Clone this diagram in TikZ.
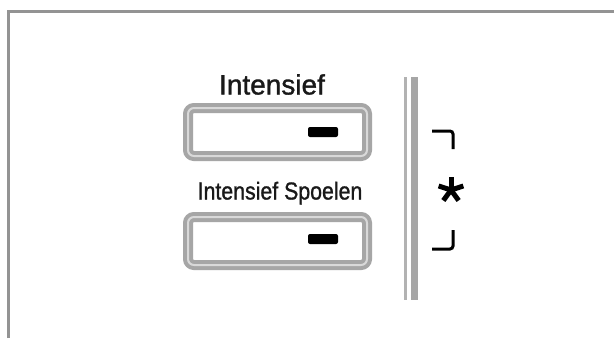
\documentclass[tikz,border=0pt]{standalone}
\usepackage{fontspec}
\setmainfont{Liberation Sans}
\newfontfamily\panelfont[FakeBold=1.2]{Liberation Sans}

\tikzset{
    rim/.style={rounded corners=6pt, draw=gray!70, line width=10pt},
    rimline/.style={rounded corners=6pt, draw=gray!30, line width=2pt},
    lamp/.style={fill=black, rounded corners=2pt},
    hook/.style={line width=3pt, rounded corners=3pt}
}

\begin{document}
\begin{tikzpicture}[x=1pt,y=-1pt]

    \useasboundingbox (0,0) rectangle (614,338);
    \fill[white] (0,0) rectangle (614,338);

    % panel frame
    \draw[gray!85, line width=3pt] (8.5,338) -- (8.5,11.5) -- (614,11.5);

    % buttons
    \node[font=\panelfont\fontsize{28}{30}\selectfont, anchor=base, text=black!90] (lblint) at (272,94.5) {Intensief};
    \draw[rim] (188,108) rectangle (367,156);
    \draw[rimline] (188,108) rectangle (367,156);
    \fill[lamp] (308,127) rectangle (338,137);

    \node[font=\panelfont\fontsize{24.5}{26}\selectfont, anchor=base, xscale=0.87, text=black!90] (lblspoel) at (280,199.5) {Intensief Spoelen};
    \draw[rim] (188,217) rectangle (367,265);
    \draw[rimline] (188,217) rectangle (367,265);
    \fill[lamp] (308,234) rectangle (338,244);

    % separator
    \draw[gray!60, line width=3pt] (405,77) -- (405,300);
    \draw[gray!70, line width=7pt] (414.5,77) -- (414.5,300);

    % brackets and star
    \draw[hook] (432,131) -- (453,131) -- (453,149);
    \draw[hook] (453,230) -- (453,249) -- (432,249);
    \foreach \a in {270,342,54,126,198}
        \draw[line width=5pt] (451,190) -- ++(\a:13);

\end{tikzpicture}
\end{document}
